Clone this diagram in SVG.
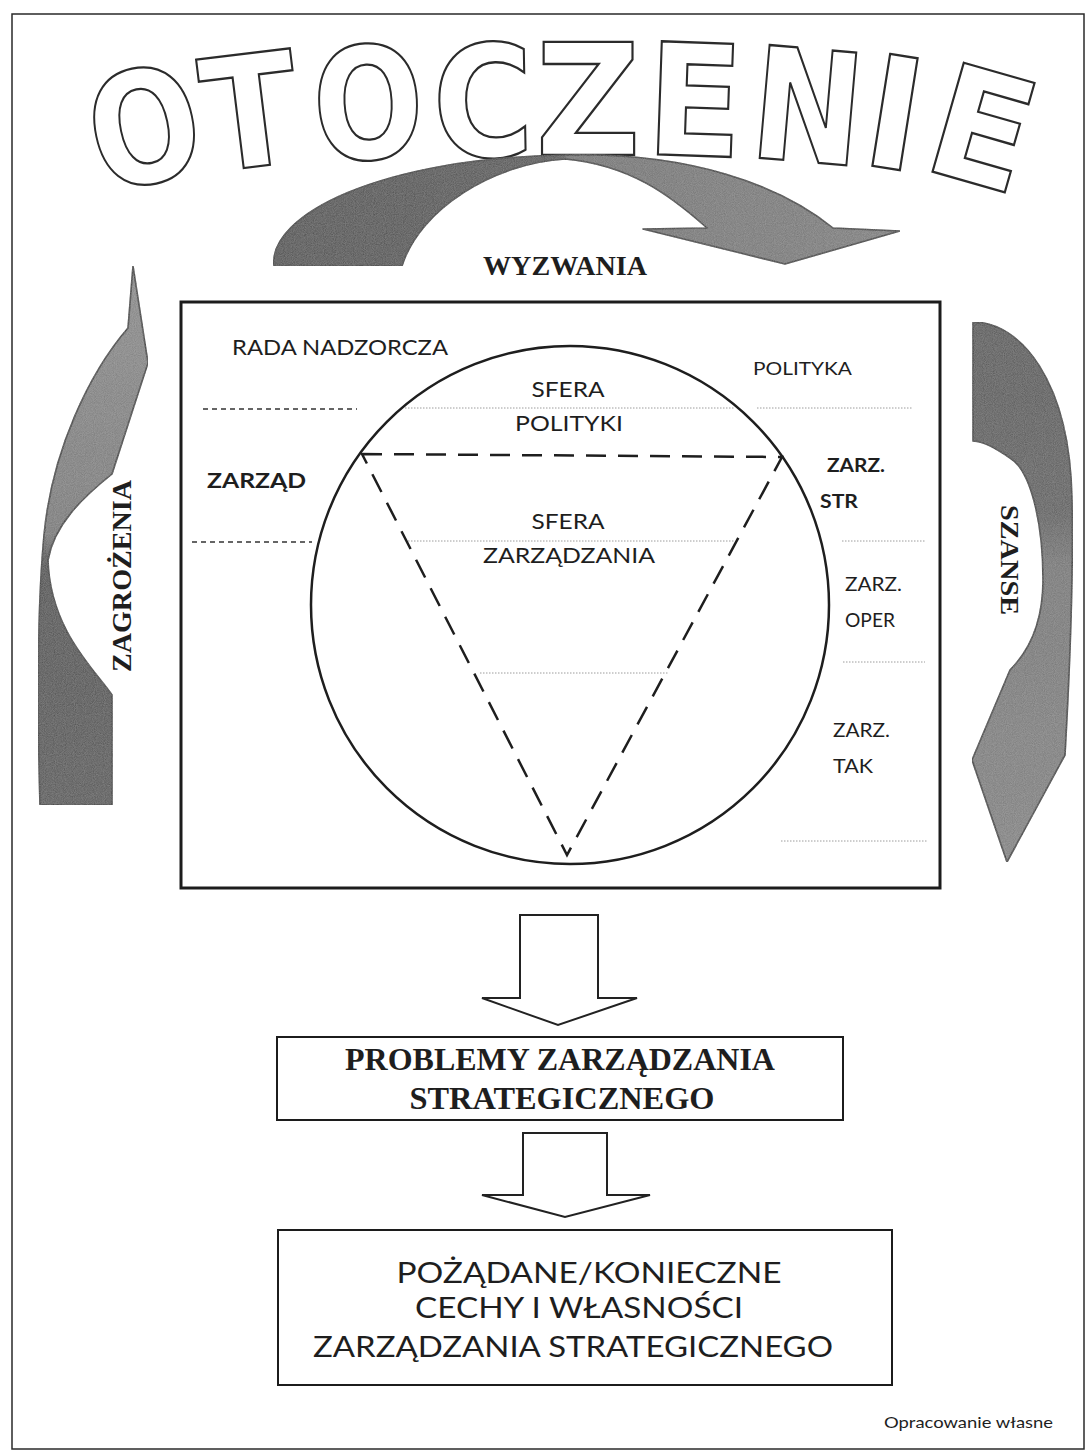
<svg xmlns="http://www.w3.org/2000/svg" width="1088" height="1453" viewBox="0 0 1088 1453">
<style>
.frame{fill:none;stroke:#2a2a2a;stroke-width:1.5}
.box{fill:#fff;stroke:#1c1c1c;stroke-width:3}
.box2{fill:#fff;stroke:#1c1c1c;stroke-width:2}
.title text{font-family:"DejaVu Sans",sans-serif;font-weight:bold;font-size:148px;fill:#fff;stroke:#2b2b2b;stroke-width:2.2;text-anchor:middle}
.swoosh{stroke:#1e1e1e;stroke-width:1.6;stroke-linejoin:round}
.lbl{font-family:Lato,"Liberation Sans",sans-serif;fill:#1e1e1e}
.lblb{font-family:Lato,"Liberation Sans",sans-serif;font-weight:bold;fill:#1e1e1e}
.bs{font-family:"Liberation Serif",serif;font-weight:bold;fill:#1e1e1e}
.dotted{stroke:#9c9c9c;stroke-width:1;stroke-dasharray:1.5 1.5;fill:none}
.dashl{stroke:#333;stroke-width:1.5;stroke-dasharray:5 4;fill:none}
.tri{fill:none;stroke:#1e1e1e;stroke-width:2.5;stroke-dasharray:20 12}
.block{fill:#fff;stroke:#222;stroke-width:2;stroke-linejoin:miter}
</style>
<defs>
  <linearGradient id="gTop" gradientUnits="userSpaceOnUse" x1="274" y1="0" x2="900" y2="0">
    <stop offset="0" stop-color="#3e3e3e"/>
    <stop offset="0.46" stop-color="#484848"/>
    <stop offset="0.47" stop-color="#6e6e6e"/>
    <stop offset="1" stop-color="#7a7a7a"/>
  </linearGradient>
  <linearGradient id="gLeft" gradientUnits="userSpaceOnUse" x1="0" y1="266" x2="0" y2="805">
    <stop offset="0" stop-color="#8a8a8a"/>
    <stop offset="0.5" stop-color="#767676"/>
    <stop offset="0.55" stop-color="#3d3d3d"/>
    <stop offset="1" stop-color="#484848"/>
  </linearGradient>
  <linearGradient id="gRight" gradientUnits="userSpaceOnUse" x1="0" y1="322" x2="0" y2="862">
    <stop offset="0" stop-color="#4a4a4a"/>
    <stop offset="0.35" stop-color="#545454"/>
    <stop offset="0.45" stop-color="#727272"/>
    <stop offset="1" stop-color="#808080"/>
  </linearGradient>
  <filter id="grain" x="0" y="0" width="100%" height="100%">
    <feTurbulence type="fractalNoise" baseFrequency="1.1" numOctaves="1" seed="7" result="noise"/>
    <feColorMatrix in="noise" type="saturate" values="0" result="mono"/>
    <feComponentTransfer in="mono" result="soft"><feFuncA type="linear" slope="0" intercept="0.22"/></feComponentTransfer>
    <feComposite in="soft" in2="SourceAlpha" operator="in" result="speck"/>
    <feMerge><feMergeNode in="SourceGraphic"/><feMergeNode in="speck"/></feMerge>
  </filter>
</defs>

<rect width="1088" height="1453" fill="#fff"/>
<rect class="frame" x="12" y="14" width="1072" height="1435"/>

<!-- arched outlined heading -->
<g id="title" class="title">
  <text transform="translate(144,126) rotate(-12) scale(0.88,1.05)" dy="0.365em">O</text>
  <text transform="translate(250,110) rotate(-7) scale(0.95,1.05)" dy="0.365em">T</text>
  <text transform="translate(368,102) rotate(-3) scale(0.88,1.05)" dy="0.365em">O</text>
  <text transform="translate(483,100) rotate(-1) scale(0.93,1.05)" dy="0.365em">C</text>
  <text transform="translate(588,98) scale(0.98,1.05)" dy="0.365em">Z</text>
  <text transform="translate(695,99) rotate(2) scale(0.95,1.05)" dy="0.365em">E</text>
  <text transform="translate(808,105) rotate(5) scale(0.9,1.05)" dy="0.365em">N</text>
  <text transform="translate(895,112) rotate(9) scale(1,1.05)" dy="0.365em">I</text>
  <text transform="translate(983,127) rotate(16) scale(0.98,1.05)" dy="0.365em">E</text>
</g>

<!-- curved arrows around the organisation -->
<g id="arrow-wyzwania">
  <path class="swoosh" fill="url(#gTop)" filter="url(#grain)" d="M274,266 C268,215 380,158 565,155 C690,152 780,185 833,228 L900,231 L785,264 L643,229 L707,228 C670,195 630,165 565,159 C495,163 420,208 402,266 Z"/>
  <text class="bs" x="483" y="275" font-size="27" textLength="164" lengthAdjust="spacingAndGlyphs">WYZWANIA</text>
</g>
<g id="arrow-zagrozenia">
  <path class="swoosh" fill="url(#gLeft)" filter="url(#grain)" d="M133,266 L148,363 L112,474 C82,498 54,525 48,560 C50,630 95,670 112,695 L112,805 L40,805 C37,700 38,600 44,535 C52,450 90,372 128,328 Z"/>
  <text class="bs" transform="translate(131,576) rotate(-90)" text-anchor="middle" font-size="28" textLength="192" lengthAdjust="spacingAndGlyphs">ZAGROŻENIA</text>
</g>
<g id="arrow-szanse">
  <path class="swoosh" fill="url(#gRight)" filter="url(#grain)" d="M973,322 C1020,322 1070,380 1072,500 C1074,600 1068,700 1065,755 L1007,862 L972,760 L1010,670 C1030,650 1043,620 1043,580 C1043,520 1030,470 1010,458 C995,448 985,442 973,441 Z"/>
  <text class="bs" transform="translate(1001,560) rotate(90)" text-anchor="middle" font-size="26" textLength="110" lengthAdjust="spacingAndGlyphs">SZANSE</text>
</g>

<!-- organisation box with spheres -->
<g id="organisation">
  <rect class="box" x="181" y="302" width="759" height="586"/>
  <circle cx="570" cy="605" r="259" fill="none" stroke="#1e1e1e" stroke-width="2.5"/>
  <path class="tri" d="M362,454 L782,457 L567,855 Z"/>
  <line class="dashl" x1="203" y1="409" x2="357" y2="409"/>
  <line class="dashl" x1="192" y1="542" x2="312" y2="542"/>
  <line class="dotted" x1="405" y1="408" x2="734" y2="408"/>
  <line class="dotted" x1="757" y1="408" x2="913" y2="408"/>
  <line class="dotted" x1="408" y1="541" x2="735" y2="541"/>
  <line class="dotted" x1="842" y1="541" x2="925" y2="541"/>
  <line class="dotted" x1="480" y1="673" x2="668" y2="673"/>
  <line class="dotted" x1="843" y1="662" x2="925" y2="662"/>
  <line class="dotted" x1="781" y1="841" x2="928" y2="841"/>
</g>
<g id="labels">
  <text class="lbl" x="232" y="355" font-size="21" textLength="216" lengthAdjust="spacingAndGlyphs">RADA NADZORCZA</text>
  <text class="lblb" x="207" y="488" font-size="21" textLength="99" lengthAdjust="spacingAndGlyphs">ZARZĄD</text>
  <text class="lbl" x="568" y="397" font-size="21" text-anchor="middle" textLength="73" lengthAdjust="spacingAndGlyphs">SFERA</text>
  <text class="lbl" x="569" y="431" font-size="21" text-anchor="middle" textLength="108" lengthAdjust="spacingAndGlyphs">POLITYKI</text>
  <text class="lbl" x="568" y="529" font-size="21" text-anchor="middle" textLength="73" lengthAdjust="spacingAndGlyphs">SFERA</text>
  <text class="lbl" x="569" y="563" font-size="21" text-anchor="middle" textLength="172" lengthAdjust="spacingAndGlyphs">ZARZĄDZANIA</text>
  <text class="lbl" x="753" y="375" font-size="18" textLength="99" lengthAdjust="spacingAndGlyphs">POLITYKA</text>
  <text class="lblb" x="827" y="472" font-size="19" textLength="58" lengthAdjust="spacingAndGlyphs">ZARZ.</text>
  <text class="lblb" x="820" y="508" font-size="19" textLength="38" lengthAdjust="spacingAndGlyphs">STR</text>
  <text class="lbl" x="845" y="591" font-size="19" textLength="57" lengthAdjust="spacingAndGlyphs">ZARZ.</text>
  <text class="lbl" x="845" y="627" font-size="19" textLength="50" lengthAdjust="spacingAndGlyphs">OPER</text>
  <text class="lbl" x="833" y="737" font-size="19" textLength="57" lengthAdjust="spacingAndGlyphs">ZARZ.</text>
  <text class="lbl" x="833" y="773" font-size="19" textLength="40" lengthAdjust="spacingAndGlyphs">TAK</text>
</g>

<!-- downward flow -->
<g id="connectors">
  <path class="block" d="M520,915 L598,915 L598,998 L637,998 L558,1025 L482,998 L520,998 Z"/>
  <path class="block" d="M523,1133 L607,1133 L607,1195 L650,1195 L565,1217 L482,1195 L523,1195 Z"/>
</g>
<g id="problemy">
  <rect class="box2" x="277" y="1037" width="566" height="83"/>
  <text class="bs" x="560" y="1070" font-size="31" text-anchor="middle" textLength="430" lengthAdjust="spacingAndGlyphs">PROBLEMY ZARZĄDZANIA</text>
  <text class="bs" x="562" y="1109" font-size="31" text-anchor="middle" textLength="305" lengthAdjust="spacingAndGlyphs">STRATEGICZNEGO</text>
</g>
<g id="cechy">
  <rect class="box2" x="278" y="1230" width="614" height="155"/>
  <text class="lbl" x="589" y="1283" font-size="28" text-anchor="middle" textLength="385" lengthAdjust="spacingAndGlyphs">POŻĄDANE/KONIECZNE</text>
  <text class="lbl" x="579" y="1318" font-size="28" text-anchor="middle" textLength="328" lengthAdjust="spacingAndGlyphs">CECHY I WŁASNOŚCI</text>
  <text class="lbl" x="573" y="1357" font-size="28" text-anchor="middle" textLength="520" lengthAdjust="spacingAndGlyphs">ZARZĄDZANIA STRATEGICZNEGO</text>
</g>
<text id="source" class="lbl" x="884" y="1428" font-size="16" textLength="169" lengthAdjust="spacingAndGlyphs">Opracowanie własne</text>
</svg>
